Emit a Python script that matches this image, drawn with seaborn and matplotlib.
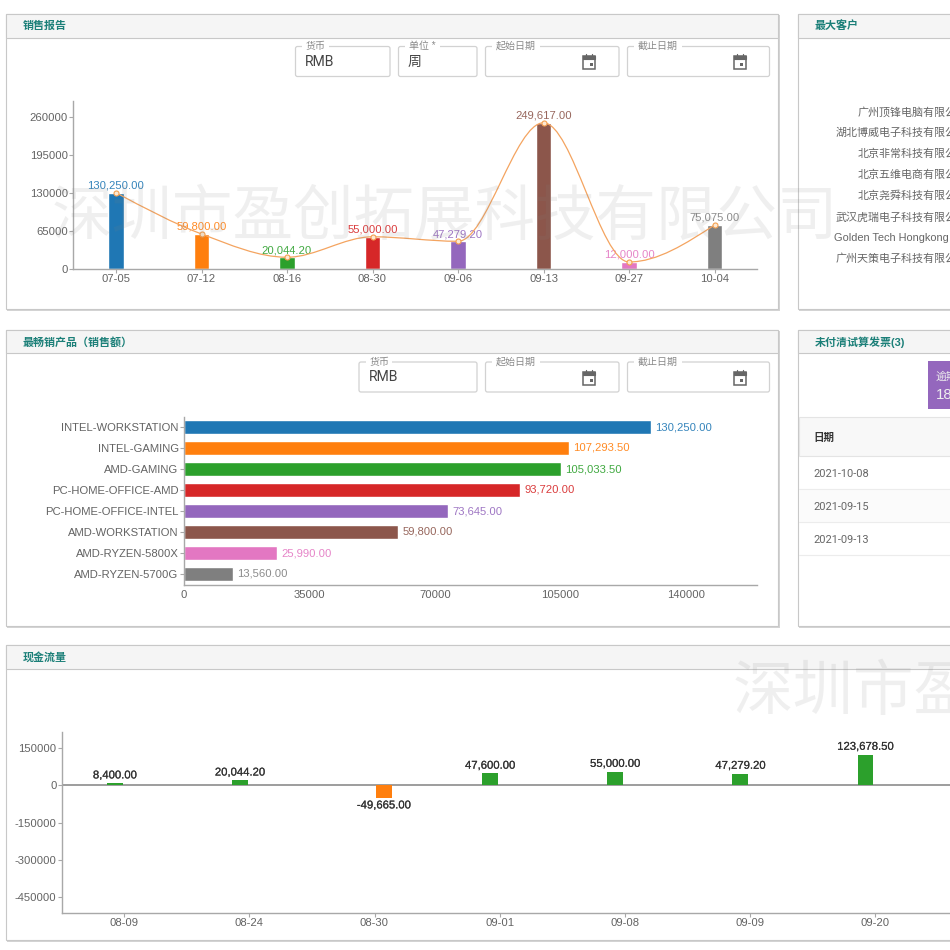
import numpy as np
import pandas as pd
import seaborn as sns
import matplotlib.pyplot as plt
import matplotlib.patheffects as pe
from matplotlib.patches import Rectangle, FancyBboxPatch, PathPatch
from matplotlib.path import Path

# data
sales_dates = ['07-05', '07-12', '08-16', '08-30', '09-06', '09-13', '09-27', '10-04']
sales_vals = [130250.00, 59800.00, 20044.20, 55000.00, 47279.20, 249617.00, 12000.00, 75075.00]
sales_ticks = [0, 65000, 130000, 195000, 260000]

products = ['INTEL-WORKSTATION', 'INTEL-GAMING', 'AMD-GAMING', 'PC-HOME-OFFICE-AMD',
            'PC-HOME-OFFICE-INTEL', 'AMD-WORKSTATION', 'AMD-RYZEN-5800X', 'AMD-RYZEN-5700G']
product_vals = [130250.00, 107293.50, 105033.50, 93720.00, 73645.00, 59800.00, 25990.00, 13560.00]
product_ticks = [0, 35000, 70000, 105000, 140000]

cash_dates = ['08-09', '08-24', '08-30', '09-01', '09-08', '09-09', '09-20']
cash_vals = [8400.00, 20044.20, -49665.00, 47600.00, 55000.00, 47279.20, 123678.50]
cash_ticks = [150000, 0, -150000, -300000, -450000]

customers = ['广州顶锋电脑有限公司', '湖北博威电子科技有限公司', '北京非常科技有限公司', '北京五维电商有限公司',
             '北京尧舜科技有限公司', '武汉虎瑞电子科技有限公司', 'Golden Tech Hongkong Limited', '广州天策电子科技有限公司']
invoice_dates = ['2021-10-08', '2021-09-15', '2021-09-13']
watermark = '深圳市盈创拓展科技有限公司'

sns.set_theme(style='white')
plt.rcParams['font.family'] = ['Liberation Sans', 'Noto Sans CJK SC', 'DejaVu Sans']
colors = sns.color_palette('tab10')
colors = colors[:8]

W = 950
fig = plt.figure(figsize=(9.5, 9.5), dpi=100, facecolor='white')


def px_axes(l, t, r, b, z=1):
    return fig.add_axes([l / W, 1 - b / W, (r - l) / W, (b - t) / W], zorder=z)


def px(size):
    return size * 0.72


bg = px_axes(0, 0, W, W, 0)
bg.set_xlim(0, W)
bg.set_ylim(W, 0)
bg.axis('off')


def panel(l, t, r, b, head, title):
    bg.add_patch(Rectangle((l + 1, t + 1), r - l + 1, b - t + 1, fc='#d4d4d4', ec='none'))
    bg.add_patch(Rectangle((l, t), r - l, b - t, fc='white', ec='#c8c8c8', lw=0.8))
    bg.add_patch(Rectangle((l, t), r - l, head - t, fc='#f5f5f5', ec='#c8c8c8', lw=0.8))
    bg.text(l + 16.5, (t + head) / 2 + 0.5, title, color='#1b7f78', fontsize=px(11), fontweight='bold',
            va='center', ha='left')


def field(l, r, t, b, label, value=None, icon=False):
    bg.add_patch(FancyBboxPatch((l + 2, t + 2), r - l - 4, b - t - 4, boxstyle='round,pad=2',
                                fc='white', ec='#d2d2d2', lw=0.9))
    lx = l + 10.5
    wid = sum(11 if ord(c) > 255 else 4 for c in label)
    bg.add_patch(Rectangle((lx - 4, t - 3), wid * 0.95 + 6, 6, fc='white', ec='none', zorder=3))
    bg.text(lx, t - 0.5, label, fontsize=px(10), color='#8a8a8a', va='center', ha='left', zorder=4)
    if value:
        bg.text(l + 9.5, (t + b) / 2, value, fontsize=px(14), color='#444444', va='center', ha='left',
                family=['Roboto', 'Noto Sans CJK SC'])
    if icon:
        cx, cy = r - 30, (t + b) / 2 + 0.5
        bg.add_patch(Rectangle((cx - 6, cy - 6), 12, 13, fc='white', ec='#666666', lw=1.1))
        bg.add_patch(Rectangle((cx - 6, cy - 6), 12, 3, fc='#666666', ec='#666666', lw=0.8))
        bg.add_patch(Rectangle((cx + 0.5, cy + 1), 3, 3, fc='#666666', ec='none'))
        bg.plot([cx - 3, cx - 3], [cy - 8, cy - 6], color='#666666', lw=0.9)
        bg.plot([cx + 3, cx + 3], [cy - 8, cy - 6], color='#666666', lw=0.9)


def style_axes(ax):
    for s in ['top', 'right']:
        ax.spines[s].set_visible(False)
    for s in ['left', 'bottom']:
        ax.spines[s].set_color('#a8a8a8')
        ax.spines[s].set_linewidth(1.0)
    ax.tick_params(axis='both', length=3, width=0.8, color='#a8a8a8', labelcolor='#636363',
                   labelsize=px(11.3), pad=0.8, left=True, bottom=True)
    ax.set_xlabel('')
    ax.set_ylabel('')
    ax.patch.set_alpha(0)


# panels
panel(6, 13.5, 778, 309, 37.5, '销售报告')
panel(798, 13.5, 990, 309, 37.5, '最大客户')
panel(6, 330, 778, 625.5, 353, '最畅销产品（销售额）')
panel(798, 330, 990, 625.5, 353, '未付清试算发票(3)')
panel(6, 645, 990, 940, 668.5, '现金流量')

field(295.5, 390, 46.5, 76.5, '货币', 'RMB')
field(398.5, 477, 46.5, 76.5, '单位 *', '周')
field(485.5, 619, 46.5, 76.5, '起始日期', icon=True)
field(627.5, 769.5, 46.5, 76.5, '截止日期', icon=True)
field(359, 477, 362, 392, '货币', 'RMB')
field(485.5, 619, 362, 392, '起始日期', icon=True)
field(627.5, 769.5, 362, 392, '截止日期', icon=True)

# top customers
for i, name in enumerate(customers):
    y = 112 + i * 21
    if name.startswith('Golden'):
        bg.text(834, y, name, fontsize=px(11), color='#666666', va='center', ha='left')
    else:
        bg.text(968, y, name, fontsize=px(11), color='#666666', va='center', ha='right')

# unpaid invoices
bg.add_patch(Rectangle((928, 361), 30, 48, fc='#9467bd', ec='none'))
bg.text(936, 377, '逾期', color='#eeeeee', fontsize=px(11), va='center', ha='left')
bg.text(936, 395, '18', color='#eeeeee', fontsize=px(15), va='center', ha='left')
bg.add_patch(Rectangle((798.5, 417), 192, 39, fc='#f8f8f8', ec='#e4e4e4', lw=0.8))
bg.text(813, 438, '日期', color='#333333', fontsize=px(10.5), fontweight='bold', va='center')
bg.add_patch(Rectangle((799, 489), 192, 33, fc='#fbfbfb', ec='none'))
for i, d in enumerate(invoice_dates):
    bg.text(813, 474 + i * 33, d, color='#666666', fontsize=px(11), va='center',
            family=['Roboto', 'DejaVu Sans'])
    bg.plot([799, 950], [489 + i * 33] * 2, color='#ececec', lw=0.8)

# sales report chart
ax1 = px_axes(73.25, 101, 757.25, 269)
sns.barplot(x=sales_dates, y=sales_vals, hue=sales_dates, palette=colors, legend=False,
            width=0.187, saturation=1, ax=ax1)
ax1.set_ylim(0, 286800)
ax1.set_xlim(-0.5, 7.5)
style_axes(ax1)
ax1.set_yticks(sales_ticks)
ax1.set_yticklabels([str(v) for v in sales_ticks])
for c, col in zip(ax1.containers, colors):
    ax1.bar_label(c, fmt='{:,.2f}', color=col, fontsize=px(11.3), padding=1.5, alpha=0.9)

# monotone curve through the bar tops
xs = np.arange(len(sales_vals), dtype=float)
ys = np.array(sales_vals)
step = np.diff(ys)
slope = np.zeros(len(ys))
for i in range(1, len(ys) - 1):
    p = (step[i - 1] + step[i]) / 2
    slope[i] = (np.sign(step[i - 1]) + np.sign(step[i])) * min(abs(step[i - 1]), abs(step[i]), 0.5 * abs(p))
slope[0] = (3 * step[0] - slope[1]) / 2
slope[-1] = (3 * step[-1] - slope[-2]) / 2
verts = [(xs[0], ys[0])]
codes = [Path.MOVETO]
for i in range(len(xs) - 1):
    verts += [(xs[i] + 1 / 3, ys[i] + slope[i] / 3),
              (xs[i + 1] - 1 / 3, ys[i + 1] - slope[i + 1] / 3),
              (xs[i + 1], ys[i + 1])]
    codes += [Path.CURVE4] * 3
ax1.add_patch(PathPatch(Path(verts, codes), fc='none', ec='#f4a460', lw=0.9, zorder=4))
ax1.plot(xs, ys, ls='none', marker='o', ms=3.6, mfc='#fde9d3', mec='#f4a050', mew=0.8, zorder=5)

# best selling products chart
ax2 = px_axes(184, 416.5, 757, 584.5)
sns.barplot(x=product_vals, y=products, hue=products, palette=colors, legend=False,
            width=0.667, saturation=1, ax=ax2)
ax2.set_xlim(0, 159800)
style_axes(ax2)
ax2.set_xticks(product_ticks)
ax2.set_xticklabels([str(v) for v in product_ticks])
ax2.tick_params(axis='x', length=0, pad=4)
for c, col in zip(ax2.containers, colors):
    ax2.bar_label(c, fmt='{:,.2f}', color=col, fontsize=px(11.3), padding=3, alpha=0.9)

# cash flow chart
cash = pd.DataFrame({'date': cash_dates, 'value': cash_vals})
cash['kind'] = ['in' if v >= 0 else 'out' for v in cash_vals]
ax3 = px_axes(61.75, 732, 1000, 912.7)
sns.barplot(data=cash, x='date', y='value', hue='kind', hue_order=['in', 'out'],
            palette=[colors[2], colors[1]], legend=False, width=0.3, gap=0.15, dodge=True,
            saturation=1, linewidth=0, zorder=3, ax=ax3)
ax3.set_xlim(-0.5, 7.0)
ax3.set_ylim(-512300, 214300)
style_axes(ax3)
ax3.set_yticks(cash_ticks)
ax3.set_yticklabels([str(v) for v in cash_ticks])
ax3.axhline(0, color='#8c8c8c', lw=1.2, zorder=1)
for c in ax3.containers:
    labels = ax3.bar_label(c, fmt='{:,.2f}', color='#333333', fontsize=px(11.3), padding=2)
    for t in labels:
        t.set_path_effects([pe.withStroke(linewidth=0.12, foreground='#333333')])

# watermarks on top of everything
over = px_axes(0, 0, W, W, 5)
over.set_xlim(0, W)
over.set_ylim(W, 0)
over.axis('off')
over.text(52, 217, watermark, fontsize=px(60.5), color='#808080', alpha=0.12, va='center', ha='left',
          family=['Noto Sans CJK SC'], fontweight='light', clip_on=True)
over.text(733, 692, watermark, fontsize=px(60.5), color='#808080', alpha=0.12, va='center', ha='left',
          family=['Noto Sans CJK SC'], fontweight='light', clip_on=True)

plt.savefig('out.png', dpi=100)
